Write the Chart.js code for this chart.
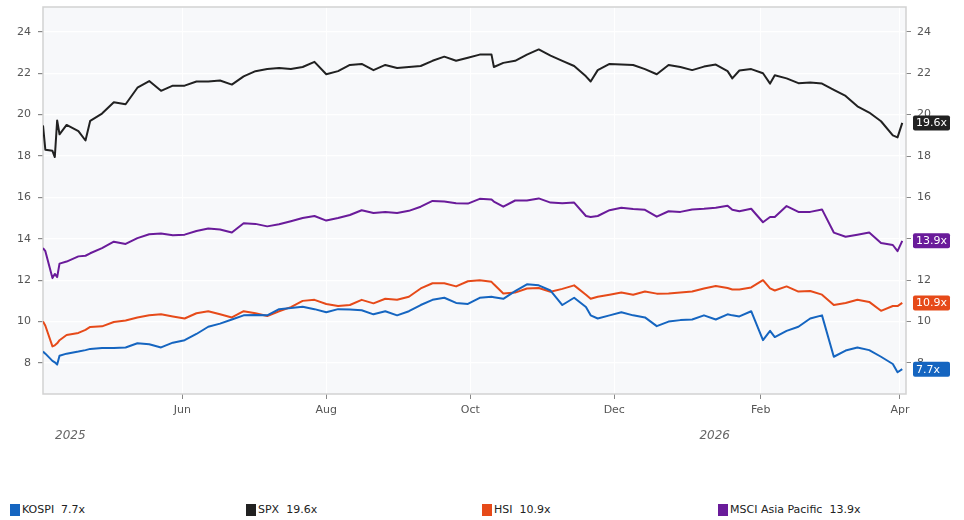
<!DOCTYPE html>
<html>
<head>
<meta charset="utf-8">
<title>Forward P/E</title>
<script src="https://cdn.jsdelivr.net/npm/chart.js@4.4.1/dist/chart.umd.min.js"></script>
<style>
  body { margin: 0; background: #fff; font-family: 'DejaVu Sans', sans-serif; }
  #wrap { position: relative; width: 964px; height: 520px; }
  #chart { position: absolute; left: 0; top: 0; }
  #legend { position: absolute; left: 10px; top: 503px; display: flex; font-size: 11px; color: #222; }
  .legend-item { width: 236px; display: flex; align-items: center; white-space: pre; }
  .legend-box { width: 10px; height: 12px; margin-right: 2px; }
</style>
</head>
<body>
<div id="wrap">
  <canvas id="chart" width="964" height="460"></canvas>
  <div id="legend"></div>
</div>
<script>
// --- DATA ---
const dates = [
  '2025-04-03','2025-04-04','2025-04-07','2025-04-08','2025-04-09','2025-04-10','2025-04-13','2025-04-18','2025-04-21','2025-04-23','2025-04-28',
  '2025-05-03','2025-05-08','2025-05-13','2025-05-18','2025-05-23','2025-05-28','2025-06-02','2025-06-07','2025-06-12','2025-06-17','2025-06-22',
  '2025-06-27','2025-07-02','2025-07-07','2025-07-12','2025-07-17','2025-07-22','2025-07-27','2025-08-01','2025-08-06','2025-08-11','2025-08-16',
  '2025-08-21','2025-08-26','2025-08-31','2025-09-05','2025-09-10','2025-09-15','2025-09-20','2025-09-25','2025-09-30','2025-10-05','2025-10-10',
  '2025-10-11','2025-10-15','2025-10-20','2025-10-25','2025-10-30','2025-11-04','2025-11-09','2025-11-14','2025-11-19','2025-11-21','2025-11-24',
  '2025-11-29','2025-12-04','2025-12-09','2025-12-14','2025-12-19','2025-12-24','2025-12-29','2026-01-03','2026-01-08','2026-01-13','2026-01-18',
  '2026-01-20','2026-01-23','2026-01-28','2026-02-02','2026-02-05','2026-02-07','2026-02-12','2026-02-17','2026-02-22','2026-02-27','2026-03-04',
  '2026-03-09','2026-03-14','2026-03-19','2026-03-24','2026-03-29','2026-03-31','2026-04-02'
];

const kospi = [
  8.55, 8.45, 8.1, 8.03, 7.92, 8.35, 8.45, 8.55, 8.62, 8.68, 8.72,
  8.72, 8.75, 8.95, 8.9, 8.75, 8.98, 9.1, 9.4, 9.75, 9.9, 10.1,
  10.3, 10.32, 10.3, 10.6, 10.65, 10.72, 10.6, 10.45, 10.6, 10.58, 10.55,
  10.35, 10.5, 10.3, 10.5, 10.8, 11.05, 11.15, 10.9, 10.85, 11.15, 11.2,
  11.18, 11.1, 11.47, 11.8, 11.75, 11.5, 10.8, 11.15, 10.7, 10.3, 10.15,
  10.3, 10.45, 10.3, 10.2, 9.78, 10.0, 10.07, 10.1, 10.3, 10.1, 10.35,
  10.3, 10.25, 10.5, 9.1, 9.55, 9.25, 9.55, 9.75, 10.15, 10.3, 8.3,
  8.6, 8.75, 8.62, 8.3, 7.95, 7.55, 7.7
];

const spx = [
  19.48, 18.3, 18.25, 17.95, 19.72, 19.05, 19.5, 19.2, 18.75, 19.7, 20.05,
  20.6, 20.5, 21.3, 21.62, 21.15, 21.4, 21.4, 21.6, 21.6, 21.65, 21.45,
  21.85, 22.1, 22.2, 22.25, 22.2, 22.3, 22.55, 21.95, 22.1, 22.4, 22.45,
  22.15, 22.4, 22.25, 22.3, 22.35, 22.6, 22.8, 22.6, 22.75, 22.9, 22.9,
  22.3, 22.5, 22.6, 22.9, 23.15, 22.85, 22.6, 22.35, 21.85, 21.6, 22.15,
  22.45, 22.42, 22.4, 22.2, 21.95, 22.4, 22.3, 22.15, 22.32, 22.42, 22.1,
  21.75, 22.13, 22.2, 22.0, 21.5, 21.9, 21.75, 21.52, 21.55, 21.5, 21.2,
  20.9, 20.4, 20.1, 19.68, 19.0, 18.9, 19.6
];

const hsi = [
  10.0, 9.8, 8.8, 8.85, 8.95, 9.1, 9.35, 9.45, 9.6, 9.74, 9.77,
  9.98, 10.05, 10.2, 10.3, 10.35, 10.25, 10.15, 10.4, 10.5, 10.35, 10.2,
  10.5, 10.4, 10.27, 10.5, 10.7, 11.0, 11.05, 10.85, 10.75, 10.8, 11.05,
  10.88, 11.1, 11.05, 11.2, 11.6, 11.85, 11.85, 11.7, 11.95, 12.0, 11.92,
  11.8, 11.36, 11.4, 11.6, 11.62, 11.44, 11.58, 11.75, 11.3, 11.1, 11.2,
  11.3, 11.4, 11.3, 11.45, 11.35, 11.36, 11.4, 11.45, 11.6, 11.72, 11.62,
  11.55, 11.55, 11.65, 12.0, 11.6, 11.5, 11.7, 11.45, 11.48, 11.3, 10.8,
  10.9, 11.05, 10.95, 10.52, 10.75, 10.75, 10.9
];

const msciAp = [
  13.55, 13.4, 12.1, 12.3, 12.15, 12.8, 12.9, 13.15, 13.18, 13.3, 13.55,
  13.86, 13.75, 14.03, 14.22, 14.25, 14.17, 14.2, 14.38, 14.5, 14.45, 14.3,
  14.75, 14.72, 14.6, 14.7, 14.85, 15.0, 15.1, 14.88, 15.0, 15.15, 15.38,
  15.25, 15.3, 15.25, 15.35, 15.55, 15.83, 15.8, 15.72, 15.7, 15.93, 15.9,
  15.8, 15.55, 15.85, 15.85, 15.95, 15.75, 15.72, 15.75, 15.1, 15.05, 15.1,
  15.38, 15.5, 15.44, 15.4, 15.07, 15.33, 15.3, 15.42, 15.45, 15.5, 15.6,
  15.4, 15.33, 15.45, 14.8, 15.05, 15.05, 15.58, 15.3, 15.3, 15.42, 14.3,
  14.1, 14.2, 14.3, 13.8, 13.7, 13.4, 13.9
];

const seriesNames = ['KOSPI', 'SPX', 'HSI', 'MSCI Asia Pacific'];
const seriesColors = ['#1565c0', '#212121', '#e64a19', '#6a1b9a'];
const seriesValues = [kospi, spx, hsi, msciAp];

const yTicks = [8, 10, 12, 14, 16, 18, 20, 22, 24];
const monthTickDates = ['2025-06-01', '2025-08-01', '2025-10-01', '2025-12-01', '2026-02-01', '2026-04-01'];
const monthLabels = ['Jun', 'Aug', 'Oct', 'Dec', 'Feb', 'Apr'];
const yearStarts = ['2025-01-01', '2026-01-01'];
const yearLabels = ['2025', '2026'];

const xMin = Date.parse('2025-04-03');
const xMax = Date.parse('2026-04-03T14:00:00Z');

// --- PLUGINS ---
const plotFrame = {
  id: 'plotFrame',
  beforeDraw(chart) {
    const { ctx, chartArea: a } = chart;
    ctx.save();
    ctx.fillStyle = '#f7f8fa';
    ctx.fillRect(a.left, a.top, a.right - a.left, a.bottom - a.top);
    ctx.restore();
  },
  beforeDatasetsDraw(chart) {
    const { ctx, chartArea: a } = chart;
    ctx.save();
    ctx.strokeStyle = '#d2d2d2';
    ctx.lineWidth = 1.5;
    ctx.strokeRect(a.left, a.top, a.right - a.left, a.bottom - a.top);
    ctx.restore();
  }
};

const endLabels = {
  id: 'endLabels',
  afterDraw(chart) {
    const { ctx, chartArea: a, scales } = chart;
    ctx.save();
    ctx.font = '11px "DejaVu Sans"';
    ctx.textBaseline = 'middle';
    ctx.textAlign = 'left';
    chart.data.datasets.forEach(ds => {
      const last = ds.data[ds.data.length - 1].y;
      const py = scales.y.getPixelForValue(last);
      ctx.fillStyle = ds.borderColor;
      ctx.beginPath();
      ctx.roundRect(a.right + 7, py - 7.5, 37, 15, 2);
      ctx.fill();
      ctx.fillStyle = '#fff';
      ctx.fillText(last.toFixed(1) + 'x', a.right + 10, py + 0.5);
    });

    // year labels under the month ticks
    ctx.font = 'italic 12px "DejaVu Sans"';
    ctx.fillStyle = '#666';
    yearStarts.forEach((d, i) => {
      const px = Math.max(a.left, scales.x.getPixelForValue(Date.parse(d)));
      ctx.fillText(yearLabels[i], px + 12, 436);
    });
    ctx.restore();
  }
};

// --- CHART ---
const datasets = seriesNames.map((name, i) => ({
  label: name,
  data: dates.map((d, j) => ({ x: Date.parse(d), y: seriesValues[i][j] })),
  borderColor: seriesColors[i],
  backgroundColor: seriesColors[i],
  borderWidth: 2,
  pointRadius: 0,
  tension: 0,
  borderJoinStyle: 'round',
  yAxisID: 'y'
}));

const tickFont = { family: 'DejaVu Sans', size: 11 };

// keep the plot box where the reference has it: no label overhang padding
const fitY = w => s => { s.width = w; s.paddingTop = 0; s.paddingBottom = 0; };

const chart = new Chart(document.getElementById('chart'), {
  type: 'line',
  data: { datasets },
  options: {
    responsive: false,
    animation: false,
    layout: { padding: { top: 7, left: 0, right: 0, bottom: 0 } },
    plugins: { legend: { display: false }, tooltip: { enabled: false } },
    scales: {
      x: {
        type: 'linear',
        min: xMin,
        max: xMax,
        afterBuildTicks: s => { s.ticks = monthTickDates.map(d => ({ value: Date.parse(d) })); },
        afterFit: s => { s.height = 66; s.paddingLeft = 0; s.paddingRight = 0; },
        ticks: {
          autoSkip: false, maxRotation: 0, padding: 5, color: '#555', font: tickFont,
          callback: (v, i) => monthLabels[i]
        },
        grid: { color: 'rgba(255,255,255,0.9)', tickColor: '#888', tickLength: 5 },
        border: { display: false }
      },
      y: {
        position: 'left',
        min: 6.5,
        max: 25.2,
        afterBuildTicks: s => { s.ticks = yTicks.map(v => ({ value: v })); },
        afterFit: fitY(43),
        ticks: { padding: 7, color: '#555', font: tickFont },
        grid: { color: '#ffffff', lineWidth: 1.2, tickColor: '#888', tickLength: 5 },
        border: { display: false }
      },
      y2: {
        position: 'right',
        min: 6.5,
        max: 25.2,
        afterBuildTicks: s => { s.ticks = yTicks.map(v => ({ value: v })); },
        afterFit: fitY(58),
        ticks: { padding: 6, color: '#555', font: tickFont },
        grid: { drawOnChartArea: false, tickColor: '#888', tickLength: 5 },
        border: { display: false }
      }
    }
  },
  plugins: [plotFrame, endLabels]
});

// --- HTML LEGEND ---
const legendEl = document.getElementById('legend');
legendEl.innerHTML = chart.data.datasets.map(ds => {
  const last = ds.data[ds.data.length - 1].y.toFixed(1);
  return `<div class="legend-item"><span class="legend-box" style="background:${ds.borderColor}"></span>${ds.label}  ${last}x</div>`;
}).join('');
</script>
</body>
</html>
